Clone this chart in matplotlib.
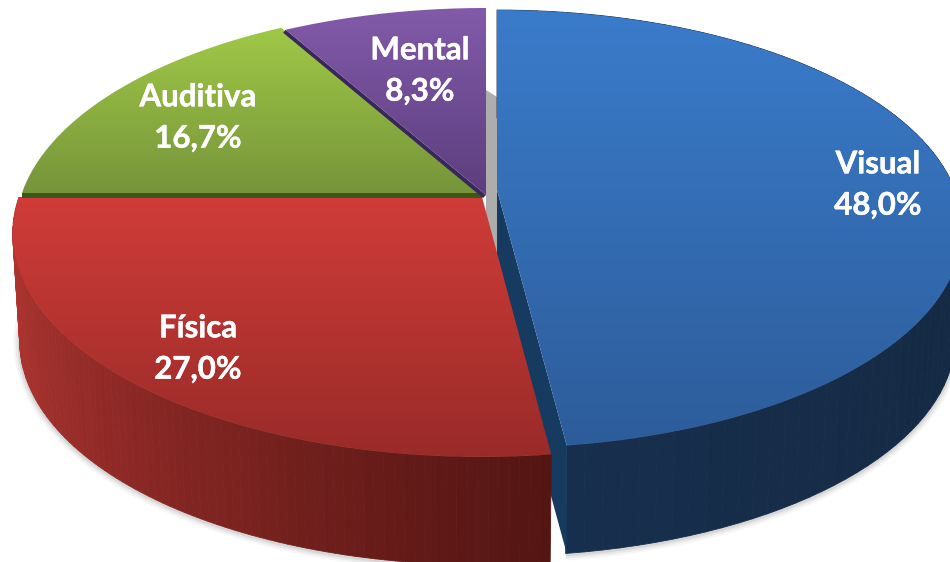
import numpy as np
import matplotlib
matplotlib.use("Agg")
import matplotlib.pyplot as plt
import matplotlib.patheffects as pe
from matplotlib.collections import PolyCollection
from matplotlib.colors import to_rgb
from matplotlib.patches import Polygon, PathPatch
from matplotlib.path import Path

names = ["Visual", "Física", "Auditiva", "Mental"]
shares = [48.0, 27.0, 16.7, 8.3]

# projection layout for each slice: centre x, centre y, half width, half height, perspective
layout = {
    "Visual":   (497, 190, 458, 212, 0.178),
    "Física":   (482, 197, 463, 217.5, 0.163),
    "Auditiva": (482, 193, 460, 217.5, 0.163),
    "Mental":   (486, 195, 459, 217.5, 0.163),
}
top_colors = {
    "Visual":   ("#3a7ccb", "#2d5c9a", 10, 447),
    "Física":   ("#d03c38", "#9a2b29", 197, 452),
    "Auditiva": ("#9fc746", "#76943a", 32, 193),
    "Mental":   ("#825aaa", "#5c3d7c", 8, 200),
}
side_colors = {
    "Visual":   ("#172f4e", "#152a44"),
    "Física":   ("#ad3430", "#531513"),
}
label_pos = {
    "Visual": (878, 185), "Física": (198, 349),
    "Auditiva": (198, 118), "Mental": (420, 71),
}
DEPTH = 108
SHRINK = 0.985

plt.rcParams["font.family"] = ["Lato", "Open Sans", "DejaVu Sans"]
fig = plt.figure(figsize=(9.5, 5.62), dpi=100)
ax = fig.add_axes([0, 0, 1, 1])
ax.set_axis_off()


def project(name, deg, scale=1.0, dy=0.0):
    cx, cy, a, b, k = layout[name]
    t = np.radians(deg)
    u, v = np.sin(t), np.cos(t)
    d = 1 + k * v
    return cx + scale * a * u / d, cy - b * v / d + dy


def lerp(c0, c1, f):
    return tuple((1 - f) * x + f * y for x, y in zip(to_rgb(c0), to_rgb(c1)))


def grad_fill(poly, name):
    c0, c1, y0, y1 = top_colors[name]
    ys = np.linspace(0, 562, 562)
    img = np.array([[lerp(c0, c1, f)] for f in np.clip((ys - y0) / (y1 - y0), 0, 1)])
    im = ax.imshow(img, extent=(0, 950, 562, 0), aspect="auto", zorder=zorders[name],
                   interpolation="bilinear")
    patch = PathPatch(Path(poly, closed=False), transform=ax.transData, fc="none", ec="none")
    ax.add_patch(patch)
    im.set_clip_path(patch)
    return im


edges = np.concatenate([[0], np.cumsum(shares)]) * 3.6
spans = {n: (edges[i], edges[i + 1]) for i, n in enumerate(names)}
zorders = {"Visual": 5, "Física": 8, "Auditiva": 10, "Mental": 12}

# soft shadow below the body
for n in ("Visual", "Física"):
    a0, a1 = spans[n]
    th = np.linspace(max(a0, 60), a1, 120)
    x, y = project(n, th, SHRINK, DEPTH)
    for lw, al in zip((9, 6, 3), (0.05, 0.08, 0.12)):
        ax.plot(x, y + 1, color="#555555", lw=lw, alpha=al, zorder=1, solid_capstyle="butt")

# grey inner wall seen through the gap
ax.add_patch(Polygon([(486, 90), (497, 97), (497, 258), (486, 258)],
                     fc="#adadad", ec="none", zorder=2))

# outer side walls
for n, zo in (("Visual", 3), ("Física", 6)):
    a0, a1 = spans[n]
    th = np.linspace(a0, a1, 90)
    xt, yt = project(n, th)
    xb, yb = project(n, th, SHRINK, DEPTH)
    quads, cols = [], []
    c0, c1 = side_colors[n]
    for i in range(len(th) - 1):
        quads.append([(xt[i], yt[i]), (xt[i + 1], yt[i + 1]), (xb[i + 1], yb[i + 1]), (xb[i], yb[i])])
        xm = 0.5 * (xb[i] + xb[i + 1])
        if n == "Física":
            f = np.clip((xm - 20) / 530, 0, 1) ** 0.65
        else:
            f = np.clip((xm - 570) / 380, 0, 1)
        cols.append(lerp(c0, c1, f))
    ax.add_collection(PolyCollection(quads, facecolors=cols, edgecolors=cols, lw=0.6, zorder=zo))

# cut face of the pulled-out slice
vx, vy = layout["Visual"][:2]
ex, ey = project("Visual", spans["Visual"][1])
ax.add_patch(Polygon([(vx, vy), (ex, ey), (ex, ey + DEPTH), (vx, vy + DEPTH)],
                     fc="#173a60", ec="none", zorder=4))

# cut faces of the back slices
gx, gy = project("Auditiva", 270)
cx, cy = layout["Auditiva"][:2]
ax.add_patch(Polygon([(gx, gy), (cx, cy), (cx, cy + 5), (gx, gy + 5)],
                     fc="#3f5519", ec="none", zorder=10.5))
px, py = project("Mental", spans["Mental"][0])
cx, cy = layout["Mental"][:2]
ax.add_patch(Polygon([(px, py), (px - 2.5, py + 3), (cx - 3, cy + 3), (cx, cy)],
                     fc="#38285a", ec="none", zorder=11))

# top surfaces
for n in names:
    a0, a1 = spans[n]
    th = np.linspace(a0, a1, 200)
    x, y = project(n, th)
    cx, cy = layout[n][:2]
    poly = np.column_stack([np.r_[cx, x, cx], np.r_[cy, y, cy]])
    grad_fill(poly, n)
    lx, ly = label_pos[n]
    share = shares[names.index(n)]
    ax.text(lx, ly, f"{n}\n{share:.1f}%".replace(".", ","), color="white", fontsize=22.5,
            fontweight="bold", ha="center", va="center", linespacing=1.58, zorder=20,
            path_effects=[pe.withStroke(linewidth=0.3, foreground="white")])

ax.set_xlim(0, 950)
ax.set_ylim(562, 0)
fig.savefig("out.png", dpi=100, facecolor="white")
